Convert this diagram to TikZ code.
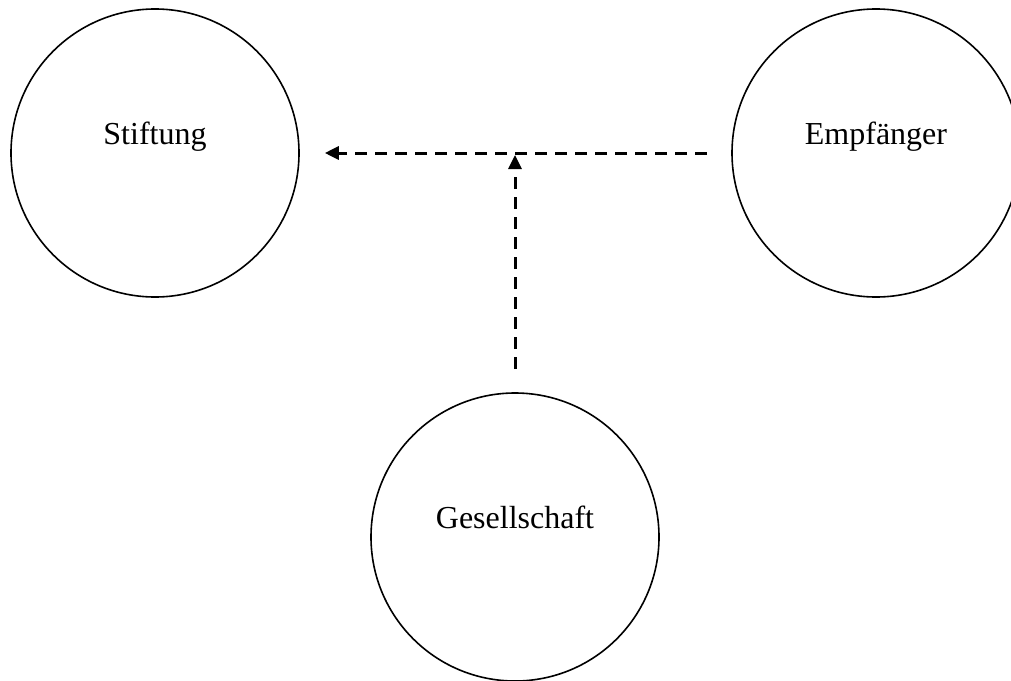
\documentclass[tikz,border=0pt]{standalone}
\usepackage{fontspec}
\setmainfont{Liberation Serif}
\usetikzlibrary{arrows.meta}
\usetikzlibrary{calc}

\begin{document}
\begin{tikzpicture}[x=0.5pt,y=-0.5pt]
    \useasboundingbox (0,0) rectangle (1011,680);
    \begin{scope} [every node/.style={circle,draw,line width=0.8pt,minimum size=144pt,
            inner sep=0pt,font=\fontsize{16}{19}\selectfont,
            text height=11pt,text depth=19.5pt}]
        \node (stiftung) at (155,153) {Stiftung};
        \node (empfaenger) at (876,153) {Empfänger};
        \node (gesellschaft) at (515,537) {Gesellschaft};
    \end{scope}
    \coordinate (knoten) at (gesellschaft |- stiftung);

    \begin{scope}[>={Triangle[length=7pt,width=6.5pt]},
            every edge/.style={draw,line width=1.5pt,dash pattern=on 6pt off 4pt}]
        \path [->] (empfaenger) edge[shorten <=12pt,shorten >=12.5pt] (stiftung);
        \path [->] (gesellschaft) edge[shorten <=11.5pt,shorten >=1pt] (knoten);
    \end{scope}
\end{tikzpicture}
\end{document}
